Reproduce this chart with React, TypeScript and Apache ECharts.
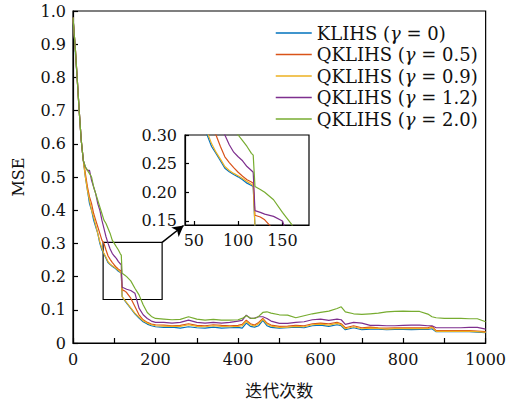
import React, { useEffect, useRef } from "react";
import * as echarts from "echarts";

const iterations = [0,3,6,10,15,20,25,30,35,40,45,50,55,60,65,70,75,80,85,90,95,100,105,110,115,117,119,125,130,140,150,160,170,180,190,200,220,240,260,280,300,320,340,360,380,400,410,420,430,440,450,460,470,480,500,520,540,560,580,600,620,640,650,660,680,700,720,740,760,780,800,820,840,860,870,880,900,920,940,960,980,1000];

const seriesNames = ["KLIHS (γ = 0)", "QKLIHS (γ = 0.5)", "QKLIHS (γ = 0.9)", "QKLIHS (γ = 1.2)", "QKLIHS (γ = 2.0)"];
const seriesColors = ["#0072BD", "#D95319", "#EDB120", "#7E2F8E", "#77AC30"];

const mseG0 = [0.98,0.93,0.87,0.80,0.70,0.61,0.55,
  0.50,0.46,0.42,0.40,0.37,0.35,0.33,0.30,0.28,0.268,0.255,0.242,0.236,0.231,0.227,0.222,0.216,0.212,
  0.21,0.14, 0.128,0.12,
  0.104,0.088,0.075,0.064,0.057,0.052,0.049,
  0.047,0.048,0.045,0.049,0.046,0.045,0.048,0.045,0.046,0.047,
  0.045,0.06,0.05,0.048,0.052,0.068,0.052,0.047,
  0.045,0.046,0.048,0.046,0.052,0.054,0.05,0.055,
  0.052,0.04,
  0.046,0.04,0.042,0.042,0.04,0.041,0.041,0.04,0.041,0.041,
  0.043,0.034,
  0.034,0.034,0.034,0.034,0.033,0.031];

const mseG05 = [0.98,0.93,0.88,0.80,0.70,0.61,0.55,
  0.51,0.47,0.44,0.42,0.39,0.37,0.35,0.33,0.31,0.30,0.28,0.262,0.252,0.243,0.235,0.228,0.222,0.218,
  0.216,0.16, 0.157,0.152,
  0.135,0.11,0.085,0.07,0.062,0.057,0.055,
  0.054,0.052,0.053,0.058,0.053,0.052,0.055,0.053,0.052,0.053,
  0.056,0.069,0.058,0.054,0.062,0.074,0.06,0.054,
  0.05,0.051,0.053,0.052,0.058,0.06,0.058,0.062,
  0.058,0.046,
  0.052,0.046,0.048,0.046,0.045,0.046,0.046,0.046,0.046,0.046,
  0.05,0.037,
  0.037,0.037,0.037,0.037,0.036,0.034];

const mseG09 = [0.98,0.93,0.88,0.80,0.70,0.61,0.55,
  0.50,0.46,0.43,0.40,0.38,0.355,0.33,0.305,0.285,0.27,0.258,0.245,0.238,0.233,0.229,0.224,0.219,0.214,
  0.212,0.14, 0.13,0.122,
  0.106,0.09,0.078,0.067,0.06,0.055,0.052,
  0.051,0.05,0.05,0.055,0.05,0.049,0.052,0.05,0.049,0.05,
  0.052,0.065,0.055,0.051,0.058,0.071,0.057,0.051,
  0.047,0.048,0.05,0.049,0.055,0.057,0.054,0.059,
  0.055,0.043,
  0.049,0.043,0.045,0.044,0.042,0.043,0.043,0.043,0.043,0.043,
  0.047,0.035,
  0.035,0.035,0.035,0.035,0.034,0.032];

const mseG12 = [0.98,0.93,0.88,0.80,0.70,0.61,0.55,
  0.53,0.52,0.52,0.49,0.47,0.45,0.42,0.40,0.37,0.345,0.32,0.30,0.283,0.27,0.262,0.255,0.245,0.238,
  0.235,0.168, 0.165,0.162,
  0.158,0.15,0.105,0.085,0.074,0.066,0.062,
  0.062,0.06,0.062,0.069,0.062,0.06,0.062,0.06,0.062,0.066,
  0.068,0.084,0.074,0.075,0.079,0.079,0.074,0.066,
  0.059,0.059,0.062,0.064,0.07,0.072,0.068,0.072,
  0.07,0.056,
  0.062,0.06,0.053,0.053,0.052,0.052,0.053,0.054,0.054,0.052,
  0.052,0.046,
  0.046,0.046,0.046,0.047,0.047,0.042];

const mseG20 = [0.98,0.93,0.88,0.80,0.70,0.61,0.55,
  0.53,0.52,0.51,0.50,0.47,0.45,0.43,0.41,0.39,0.37,0.36,0.345,0.33,0.31,0.30,0.29,0.28,0.268,
  0.265,0.21, 0.205,0.2,
  0.187,0.165,0.145,0.115,0.092,0.08,0.074,
  0.072,0.07,0.071,0.079,0.072,0.069,0.071,0.069,0.069,0.07,
  0.074,0.082,0.075,0.074,0.08,0.092,0.094,0.09,
  0.085,0.084,0.076,0.082,0.088,0.092,0.096,0.104,
  0.109,0.094,
  0.088,0.086,0.088,0.09,0.094,0.095,0.096,0.095,0.095,0.087,
  0.079,0.076,
  0.074,0.074,0.074,0.073,0.073,0.064];

const allValues = [mseG0, mseG05, mseG09, mseG12, mseG20];

const mainXTicks = [0, 200, 400, 600, 800, 1000];
const insetXTicks = [50, 100, 150];
const insetYTicks = [0.15, 0.2, 0.25, 0.3];

const SERIF = "DejaVu Serif";

export default function App() {
  const ref = useRef<HTMLDivElement>(null);
  useEffect(() => {
    if (!ref.current) return;
    const chart = echarts.init(ref.current, null, { renderer: "svg" });
    const pairs = allValues.map((vals) => iterations.map((x, i) => [x, vals[i]]));
    const mainSeries: any[] = pairs.map((d, k) => ({
      name: seriesNames[k],
      type: "line",
      data: d,
      showSymbol: false,
      symbol: "none",
      xAxisIndex: 0,
      yAxisIndex: 0,
      lineStyle: { color: seriesColors[k], width: 1.2 },
      itemStyle: { color: seriesColors[k] },
      z: 2 + k,
    }));
    const insetSeries: any[] = pairs.map((d, k) => ({
      name: seriesNames[k],
      type: "line",
      data: d,
      showSymbol: false,
      symbol: "none",
      xAxisIndex: 1,
      yAxisIndex: 1,
      clip: true,
      lineStyle: { color: seriesColors[k], width: 1.2 },
      itemStyle: { color: seriesColors[k] },
      z: 20 + k,
    }));
    const annotation = {
      type: "line",
      data: [],
      xAxisIndex: 0,
      yAxisIndex: 0,
      silent: true,
      markArea: {
        silent: true,
        itemStyle: { color: "rgba(0,0,0,0)", borderColor: "#000", borderWidth: 1.2 },
        data: [[{ coord: [73, 0.303] }, { coord: [216, 0.131] }]],
      },
      markLine: {
        silent: true,
        symbol: ["none", "arrow"],
        symbolSize: [9, 11],
        label: { show: false },
        lineStyle: { color: "#000", type: "solid", width: 1.5 },
        data: [[{ coord: [216, 0.303] }, { coord: [268, 0.354] }]],
      },
    };
    const tickLabel = { color: "#111", fontFamily: SERIF, fontSize: 16 };
    const option: any = {
      animation: false,
      backgroundColor: "#fff",
      grid: [
        { left: 73, top: 11, width: 416, height: 332, show: true, borderColor: "#000", borderWidth: 1.2, backgroundColor: "transparent" },
        { left: 185, top: 135, width: 124, height: 90, show: true, borderColor: "#000", borderWidth: 1.2, backgroundColor: "transparent" },
      ],
      legend: {
        orient: "vertical",
        left: 270,
        top: 19,
        itemWidth: 36,
        itemHeight: 14,
        itemGap: 3.5,
        itemStyle: { opacity: 0 },
        lineStyle: { width: 1.5 },
        data: seriesNames,
        formatter: (name: string) => name.replace("γ", "{i|γ}"),
        textStyle: {
          fontFamily: SERIF,
          fontSize: 18,
          lineHeight: 18,
          color: "#111",
          rich: { i: { fontFamily: SERIF, fontStyle: "italic", fontSize: 18, color: "#111" } },
        },
      },
      xAxis: [
        {
          type: "value",
          gridIndex: 0,
          min: 0,
          max: 1000,
          interval: 100,
          name: "迭代次数",
          nameLocation: "middle",
          nameGap: 38,
          nameTextStyle: { fontFamily: "Noto Sans CJK SC", fontSize: 17, color: "#111" },
          axisLine: { show: true, onZero: false, lineStyle: { color: "#000", width: 1.2 } },
          axisTick: { show: true, inside: true, length: 5, lineStyle: { color: "#000", width: 1.2 } },
          axisLabel: {
            ...tickLabel,
            margin: 8,
            formatter: (v: number) => (mainXTicks.includes(v) ? String(v) : ""),
          },
          splitLine: { show: false },
        },
        {
          type: "value",
          gridIndex: 1,
          min: 40,
          max: 180,
          axisLine: { show: true, onZero: false, lineStyle: { color: "#000", width: 1.2 } },
          axisTick: { show: true, inside: true, length: 4, customValues: insetXTicks, lineStyle: { color: "#000", width: 1.2 } },
          axisLabel: { ...tickLabel, margin: 7, customValues: insetXTicks },
          splitLine: { show: false },
        },
      ],
      yAxis: [
        {
          type: "value",
          gridIndex: 0,
          min: 0,
          max: 1,
          interval: 0.1,
          name: "MSE",
          nameLocation: "middle",
          nameGap: 47,
          nameTextStyle: { fontFamily: SERIF, fontSize: 16, color: "#111" },
          axisLine: { show: true, onZero: false, lineStyle: { color: "#000", width: 1.2 } },
          axisTick: { show: true, inside: true, length: 5, lineStyle: { color: "#000", width: 1.2 } },
          axisLabel: {
            ...tickLabel,
            margin: 7,
            formatter: (v: number) => (Math.abs(v) < 1e-9 ? "0" : v.toFixed(1)),
          },
          splitLine: { show: false },
        },
        {
          type: "value",
          gridIndex: 1,
          min: 0.143,
          max: 0.3,
          axisLine: { show: true, onZero: false, lineStyle: { color: "#000", width: 1.2 } },
          axisTick: { show: true, inside: true, length: 4, customValues: insetYTicks, lineStyle: { color: "#000", width: 1.2 } },
          axisLabel: {
            ...tickLabel,
            margin: 8,
            customValues: insetYTicks,
            formatter: (v: number) => v.toFixed(2),
          },
          splitLine: { show: false },
        },
      ],
      series: [...mainSeries, annotation, ...insetSeries],
    };
    chart.setOption(option);
    return () => chart.dispose();
  }, []);
  return <div ref={ref} style={{ width: 509, height: 406, position: "absolute", left: 0, top: 0 }} />;
}
